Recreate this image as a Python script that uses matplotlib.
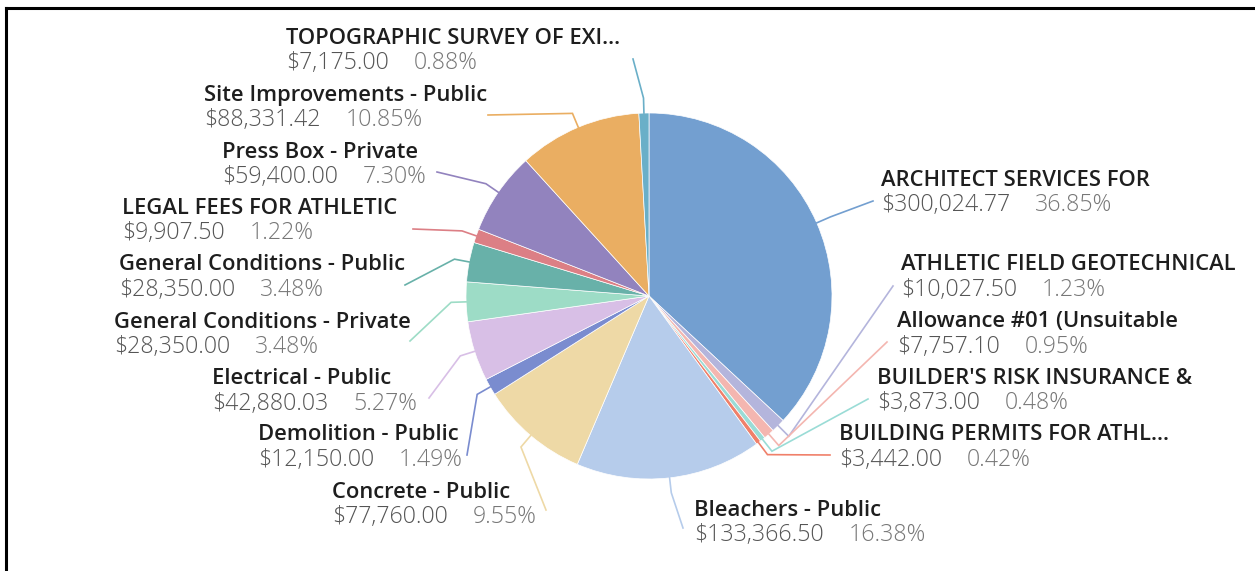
import matplotlib
matplotlib.use("Agg")
import matplotlib.pyplot as plt
from matplotlib.lines import Line2D
import numpy as np

# cost items, clockwise from 12 o'clock
names = ["ARCHITECT SERVICES FOR", "ATHLETIC FIELD GEOTECHNICAL",
         "Allowance #01 (Unsuitable", "BUILDER'S RISK INSURANCE &",
         "BUILDING PERMITS FOR ATHL...", "Bleachers - Public",
         "Concrete - Public", "Demolition - Public", "Electrical - Public",
         "General Conditions - Private", "General Conditions - Public",
         "LEGAL FEES FOR ATHLETIC", "Press Box - Private",
         "Site Improvements - Public", "TOPOGRAPHIC SURVEY OF EXI..."]
amounts = [300024.77, 10027.50, 7757.10, 3873.00, 3442.00, 133366.50,
           77760.00, 12150.00, 42880.03, 28350.00, 28350.00, 9907.50,
           59400.00, 88331.42, 7175.00]
shares = [36.85, 1.23, 0.95, 0.48, 0.42, 16.38, 9.55, 1.49, 5.27, 3.48,
          3.48, 1.22, 7.30, 10.85, 0.88]
colors = ["#739FD0", "#B4B5DC", "#F4B6B0", "#9ADCD6", "#F0806A", "#B6CCEB",
          "#EED9A6", "#7A8CCF", "#D8BFE6", "#9DDCC6", "#68B1A9", "#DC7F85",
          "#9283BE", "#EAAE62", "#6AAFC8"]

# label block (left x, title y) and where each leader line ends, in pixels
label_pos = [(882, 177), (902, 262), (898, 319), (878, 375), (840, 432),
             (695, 507), (333, 489), (259, 432), (213, 376), (115, 319),
             (120, 262), (123, 205), (223, 149), (205, 92), (287, 35)]
leader_end = [(873, 201), (893, 286), (887, 342), (868, 399), (830, 455),
              (683, 528), (546, 510), (467, 455), (429, 398), (410, 341),
              (405, 285), (413, 229), (437, 172), (488, 115), (633, 59)]

W, H = 1255, 571
cx, cy, R = 649, 296, 183

fig = plt.figure(figsize=(W / 100, H / 100), dpi=100)
ax = fig.add_axes([0, 0, 1, 1])

# y is flipped, so counterclock in data runs clockwise on screen
wedges, _ = ax.pie(amounts, colors=colors, center=(cx, cy), radius=R,
                   startangle=-90, counterclock=True, frame=True,
                   wedgeprops=dict(edgecolor="white", linewidth=0.5))
ax.set_xlim(0, W)
ax.set_ylim(H, 0)
ax.set_aspect("equal")
ax.axis("off")

fig.canvas.draw()
renderer = fig.canvas.get_renderer()

for w, col, name, amt, pct, (lx, ly), (ex, ey) in zip(
        wedges, colors, names, amounts, shares, label_pos, leader_end):
    t = np.deg2rad((w.theta1 + w.theta2) / 2)
    p0 = (cx + R * np.cos(t), cy + R * np.sin(t))
    p1 = (cx + (R + 15) * np.cos(t), cy + (R + 15) * np.sin(t))
    ax.plot([p0[0], p1[0], ex], [p0[1], p1[1], ey], color=col, lw=1.2,
            solid_joinstyle="miter")

    ax.text(lx - 1, ly + 3, name, fontsize=15.8, fontweight="semibold",
            family="Open Sans", color="#1e1e1e", ha="left", va="center")
    amt_txt = ax.text(lx - 1, ly + 28, "${:,.2f}".format(amt), fontsize=16.7,
                      fontweight="light", family="Open Sans", color="#555555",
                      ha="left", va="center")
    bb = amt_txt.get_window_extent(renderer)
    x_right = ax.transData.inverted().transform((bb.x1, bb.y0))[0]
    ax.text(x_right + 25, ly + 28, "{:.2f}%".format(pct), fontsize=16.7,
            fontweight="light", family="Open Sans", color="#777777",
            ha="left", va="center")

# black frame on the top and left edges
fig.add_artist(Line2D([6 / W, 1], [1 - 8 / H, 1 - 8 / H], color="black",
                      lw=2.2, transform=fig.transFigure))
fig.add_artist(Line2D([6 / W, 6 / W], [0, 1 - 8 / H], color="black",
                      lw=2.2, transform=fig.transFigure))

fig.savefig("out.png", dpi=100)
